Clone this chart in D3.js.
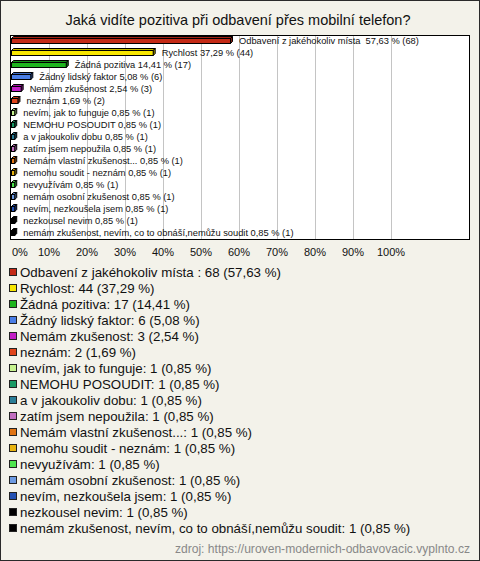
<!DOCTYPE html>
<html><head><meta charset="utf-8">
<script src="https://cdn.jsdelivr.net/npm/d3@7"></script>
<style>
html,body{margin:0;padding:0;background:#fff;}
svg{display:block;}
text{font-family:"Liberation Sans",Arial,sans-serif;white-space:pre;}
</style></head>
<body>
<svg id="c" width="480" height="561"></svg>
<script>
const title = "Jaká vidíte pozitiva při odbavení přes mobilní telefon?";
const categories = [
  "Odbavení z jakéhokoliv místa ",
  "Rychlost",
  "Žádná pozitiva",
  "Žádný lidský faktor",
  "Nemám zkušenost",
  "neznám",
  "nevím, jak to funguje",
  "NEMOHU POSOUDIT",
  "a v jakoukoliv dobu",
  "zatím jsem nepoužila",
  "Nemám vlastní zkušenost...",
  "nemohu soudit - neznám",
  "nevyužívám",
  "nemám osobní zkušenost",
  "nevím, nezkoušela jsem",
  "nezkousel nevim",
  "nemám zkušenost, nevím, co to obnáší,nemůžu soudit"
];
const counts = [68, 44, 17, 6, 3, 2, 1, 1, 1, 1, 1, 1, 1, 1, 1, 1, 1];
const percents = [57.63, 37.29, 14.41, 5.08, 2.54, 1.69, 0.85, 0.85, 0.85, 0.85, 0.85, 0.85, 0.85, 0.85, 0.85, 0.85, 0.85];
const colors = ["#c42a16", "#f7e600", "#1eb41e", "#4a7ee6", "#c21ec6", "#e0451c", "#c6f28e", "#1a9a66", "#2a7e98", "#c06ec0", "#e07414", "#e8b410", "#4ee44e", "#6c9ae2", "#2452b4", "#000000", "#000000"];
const xTicks = [0, 10, 20, 30, 40, 50, 60, 70, 80, 90, 100];
const source = "zdroj: https://uroven-modernich-odbavovacic.vyplnto.cz";

const fmt = v => v.toFixed(2).replace(".", ",");
const svg = d3.select("#c");
const W = 480, H = 561;

svg.append("rect").attr("x", 0.5).attr("y", 0.5).attr("width", W - 1).attr("height", H - 1)
  .attr("fill", "#f3f2ea").attr("stroke", "#2a2a2a");

svg.append("text").attr("x", 238).attr("y", 25).attr("text-anchor", "middle")
  .attr("font-size", 14.5).attr("fill", "#111").text(title);

const box = {x0: 10.5, x1: 469.5, y0: 35.5, y1: 239.5};
svg.append("rect").attr("x", box.x0).attr("y", box.y0).attr("width", box.x1 - box.x0).attr("height", box.y1 - box.y0)
  .attr("fill", "#fff");

const x = d3.scaleLinear().domain([0, 100]).range([11, 391]);
const y = d3.scaleBand().domain(categories).range([35, 239]);

// gridlines
svg.append("g").selectAll("line").data(xTicks.slice(1)).join("line")
  .attr("x1", d => Math.round(x(d)) + 0.5).attr("x2", d => Math.round(x(d)) + 0.5)
  .attr("y1", box.y0).attr("y2", box.y1).attr("stroke", "#c4c4c4");

svg.append("rect").attr("x", box.x0).attr("y", box.y0).attr("width", box.x1 - box.x0).attr("height", box.y1 - box.y0)
  .attr("fill", "none").attr("stroke", "#000");

// tick labels
svg.append("g").selectAll("text").data(xTicks).join("text")
  .attr("x", d => d === 0 ? 12 : x(d))
  .attr("y", 256)
  .attr("text-anchor", d => d === 0 ? "start" : "middle")
  .attr("font-size", 11).attr("fill", "#111")
  .text(d => d + "%");

// 3D bars
const dep = 2;
const bars = svg.append("g").selectAll("g").data(categories).join("g");
bars.each(function(c, i) {
  const g = d3.select(this);
  const cy = y(c) + y.bandwidth() / 2;
  const xa = x(0) + 0.5, xb = x(percents[i]) + 0.5;
  const top = Math.round(cy) - 2.5, bot = top + 5;
  const col = colors[i];
  const dark = d3.color(col).darker(1.2);
  g.append("path").attr("d", `M${xa},${top}L${xa + dep},${top - dep}L${xb + dep},${top - dep}L${xb},${top}Z`)
    .attr("fill", d3.color(col).darker(0.6)).attr("stroke", "#000").attr("stroke-width", 1);
  g.append("path").attr("d", `M${xb},${top}L${xb + dep},${top - dep}L${xb + dep},${bot - dep}L${xb},${bot}Z`)
    .attr("fill", dark).attr("stroke", "#000").attr("stroke-width", 1);
  g.append("rect").attr("x", xa).attr("y", top).attr("width", xb - xa).attr("height", bot - top)
    .attr("fill", col).attr("stroke", "#000").attr("stroke-width", 1);
  g.append("text").attr("x", x(percents[i]) + 9).attr("y", cy + 3.2)
    .attr("font-size", 9.3).attr("fill", "#111")
    .text(c + " " + fmt(percents[i]) + " % (" + counts[i] + ")");
});

// legend
const ly = d3.scaleLinear().domain([0, categories.length - 1]).range([272, 528]);
const leg = svg.append("g").selectAll("g").data(categories).join("g");
leg.append("rect").attr("x", (d, i) => 9.5).attr("y", (d, i) => Math.round(ly(i)) - 3.5)
  .attr("width", 7).attr("height", 7)
  .attr("fill", (d, i) => colors[i]).attr("stroke", "#222");
leg.append("text").attr("x", 20).attr("y", (d, i) => ly(i) + 4.8)
  .attr("font-size", 13.3).attr("fill", "#111")
  .text((d, i) => d + ": " + counts[i] + " (" + fmt(percents[i]) + " %)");

svg.append("text").attr("x", 470).attr("y", 553).attr("text-anchor", "end")
  .attr("font-size", 12.1).attr("fill", "#888").text(source);
</script>
</body></html>
